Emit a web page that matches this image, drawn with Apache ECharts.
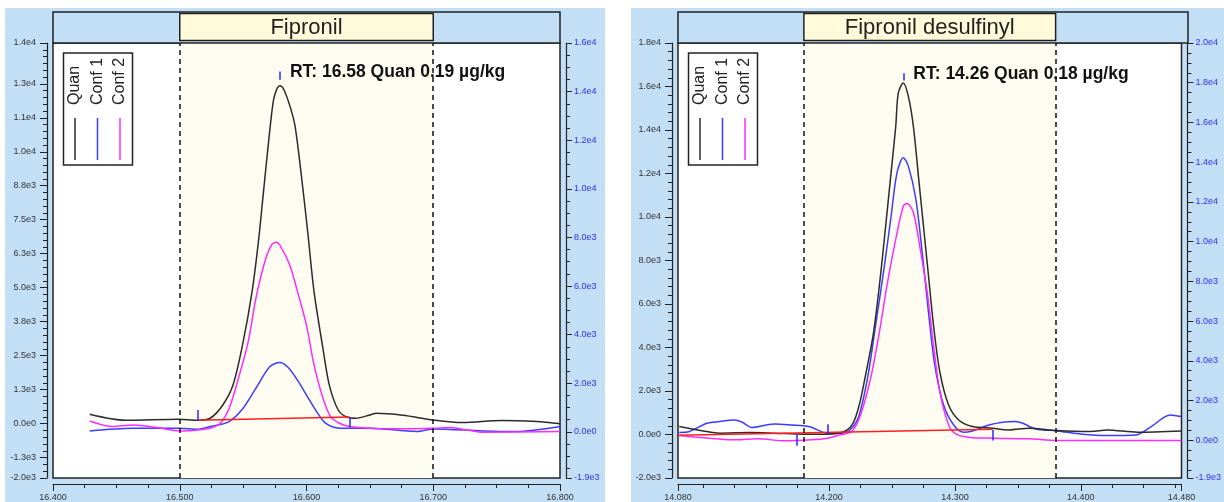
<!DOCTYPE html>
<html>
<head>
<meta charset="utf-8">
<script src="https://cdn.jsdelivr.net/npm/echarts@6/dist/echarts.min.js"></script>
<style>html,body{margin:0;padding:0;background:#fff}#c{width:1224px;height:502px}</style>
</head>
<body>
<div id="c"></div>
<script>
// ---------------- DATA ----------------
const legendNames = ['Quan', 'Conf 1', 'Conf 2'];

// Panel 1: Fipronil  (time [min], intensity)
const fipTitle = 'Fipronil';
const fipNote = 'RT: 16.58 Quan 0.19 µg/kg';
const fipQuan = [[16.429,344],[16.457,124],[16.499,161],[16.514,124],[16.524,198],[16.534,685],[16.542,1417],[16.550,3006],[16.557,4836],[16.562,6667],[16.566,8497],[16.570,10328],[16.574,11913],[16.577,12350],[16.579,12430],[16.582,12300],[16.587,11668],[16.591,10936],[16.596,9105],[16.601,7033],[16.606,4836],[16.613,2760],[16.618,1417],[16.625,502],[16.631,260],[16.639,198],[16.650,319],[16.655,381],[16.676,308],[16.700,135],[16.723,40],[16.754,113],[16.778,88],[16.800,-4]];
const fipConf1 = [[16.429,-267],[16.463,-168],[16.500,-168],[16.514,-205],[16.524,-106],[16.539,77],[16.550,564],[16.560,1296],[16.571,2090],[16.579,2248],[16.585,2090],[16.592,1662],[16.600,1051],[16.608,443],[16.615,15],[16.626,-168],[16.650,-168],[16.687,-289],[16.700,-194],[16.739,-267],[16.765,-289],[16.800,-106]];
const fipConf2 = [[16.429,99],[16.447,-106],[16.463,-48],[16.482,-143],[16.500,-267],[16.514,-231],[16.524,-168],[16.532,15],[16.539,564],[16.547,1783],[16.554,3006],[16.560,4591],[16.567,5935],[16.572,6542],[16.576,6667],[16.580,6484],[16.587,5810],[16.593,4836],[16.600,3613],[16.606,2149],[16.613,930],[16.619,260],[16.626,15],[16.634,-106],[16.650,-168],[16.673,-187],[16.700,-168],[16.713,-143],[16.728,-242],[16.739,-315],[16.800,-289]];
const fipBaseline = [[16.514,124],[16.634,245]];
const fipMarks = [[16.514,99,502],[16.634,223,-143],[16.579,12650,12950]]; // time, from, to
const fipApex = [16.579, 12950];
const fipWindow = [16.5, 16.7];
const fipXRange = [16.4, 16.8];
const fipXTicks = [16.4, 16.5, 16.6, 16.7, 16.8];
const fipXLabels = ['16.400', '16.500', '16.600', '16.700', '16.800'];
const fipYRange = [-2000, 14000];
const fipYTicks = [-2000,-1250,0,1250,2500,3750,5000,6250,7500,8750,10000,11250,12500,14000];
const fipYLabels = ['-2.0e3','-1.3e3','0.0e0','1.3e3','2.5e3','3.8e3','5.0e3','6.3e3','7.5e3','8.8e3','1.0e4','1.1e4','1.3e4','1.4e4'];
const fipY2Range = [-1900, 16000];
const fipY2Ticks = [-1900,0,2000,4000,6000,8000,10000,12000,14000,16000];
const fipY2Labels = ['-1.9e3','0.0e0','2.0e3','4.0e3','6.0e3','8.0e3','1.0e4','1.2e4','1.4e4','1.6e4'];

// Panel 2: Fipronil desulfinyl
const fdTitle = 'Fipronil desulfinyl';
const fdNote = 'RT: 14.26 Quan 0.18 µg/kg';
const fdQuan = [[14.081,366],[14.100,165],[14.113,60],[14.137,92],[14.157,60],[14.180,14],[14.199,14],[14.212,137],[14.219,517],[14.224,1355],[14.229,2728],[14.235,4559],[14.240,6847],[14.245,9593],[14.249,11882],[14.253,14170],[14.255,15699],[14.259,16157],[14.263,15543],[14.267,14170],[14.271,11882],[14.275,9593],[14.279,7305],[14.283,5016],[14.288,2884],[14.295,1355],[14.303,668],[14.314,366],[14.330,288],[14.343,211],[14.359,288],[14.381,183],[14.408,137],[14.421,211],[14.445,105],[14.480,165]];
const fdConf1 = [[14.081,92],[14.089,137],[14.103,517],[14.113,595],[14.125,668],[14.131,563],[14.139,320],[14.150,439],[14.157,485],[14.170,439],[14.184,366],[14.199,60],[14.210,60],[14.218,288],[14.224,897],[14.231,2728],[14.237,5016],[14.244,7763],[14.249,9900],[14.254,12037],[14.259,12724],[14.263,12339],[14.269,10815],[14.274,8376],[14.279,5630],[14.284,3186],[14.291,1355],[14.299,439],[14.307,105],[14.314,165],[14.320,288],[14.327,439],[14.338,563],[14.348,595],[14.354,517],[14.364,256],[14.381,165],[14.401,14],[14.421,-46],[14.444,-18],[14.456,366],[14.471,897],[14.480,824]];
const fdConf2 = [[14.081,-46],[14.105,-169],[14.126,-247],[14.144,-201],[14.165,-293],[14.186,-247],[14.199,-169],[14.207,-46],[14.218,137],[14.225,897],[14.233,2577],[14.240,4714],[14.246,6847],[14.253,8985],[14.259,10509],[14.262,10619],[14.267,10207],[14.272,8678],[14.278,6545],[14.283,4101],[14.288,1968],[14.295,439],[14.301,14],[14.312,-137],[14.330,-169],[14.359,-201],[14.381,-275],[14.421,-275],[14.480,-275]];
const fdBaseline = [[14.080,-30],[14.330,240]];
const fdMarks = [[14.174,-18,-522],[14.199,471,-18],[14.330,211,-275],[14.259,16276,16614]];
const fdApex = [14.259, 16614];
const fdWindow = [14.18, 14.38];
const fdXRange = [14.08, 14.48];
const fdXTicks = [14.08, 14.2, 14.3, 14.4, 14.48];
const fdXLabels = ['14.080', '14.200', '14.300', '14.400', '14.480'];
const fdYRange = [-2000, 18000];
const fdYTicks = [-2000,0,2000,4000,6000,8000,10000,12000,14000,16000,18000];
const fdYLabels = ['-2.0e3','0.0e0','2.0e3','4.0e3','6.0e3','8.0e3','1.0e4','1.2e4','1.4e4','1.6e4','1.8e4'];
const fdY2Range = [-1900, 20000];
const fdY2Ticks = [-1900,0,2000,4000,6000,8000,10000,12000,14000,16000,18000,20000];
const fdY2Labels = ['-1.9e3','0.0e0','2.0e3','4.0e3','6.0e3','8.0e3','1.0e4','1.2e4','1.4e4','1.6e4','1.8e4','2.0e4'];

// ---------------- STYLE / LAYOUT ----------------
const FONT = '"Liberation Sans", Arial, sans-serif';
const BLUE_BG = '#c3dff5';
const CREAM = '#fffdf1';
const TITLE_FILL = '#fffbda';
const INK = '#222';
const C_QUAN = '#2b2b2b', C_CONF1 = '#3c3cff', C_CONF2 = '#ff2bff', C_BASE = '#ff1f1f', C_MARK = '#2626ff';
const legendColors = [C_QUAN, C_CONF1, C_CONF2];

const panels = [
  { title: fipTitle, note: fipNote, quan: fipQuan, conf1: fipConf1, conf2: fipConf2, base: fipBaseline, marks: fipMarks,
    apex: fipApex, win: fipWindow, xRange: fipXRange, xTicks: fipXTicks, xLabels: fipXLabels, xMinor: 0.025,
    yRange: fipYRange, yTicks: fipYTicks, yLabels: fipYLabels, yMinor: 250,
    y2Range: fipY2Range, y2Ticks: fipY2Ticks, y2Labels: fipY2Labels, y2Minor: 500,
    grid: { left: 53, top: 43, width: 507, height: 437 }, bg: { x: 5, y: 8, width: 600, height: 494 } },
  { title: fdTitle, note: fdNote, quan: fdQuan, conf1: fdConf1, conf2: fdConf2, base: fdBaseline, marks: fdMarks,
    apex: fdApex, win: fdWindow, xRange: fdXRange, xTicks: fdXTicks, xLabels: fdXLabels, xMinor: 0.025,
    yRange: fdYRange, yTicks: fdYTicks, yLabels: fdYLabels, yMinor: 400,
    y2Range: fdY2Range, y2Ticks: fdY2Ticks, y2Labels: fdY2Labels, y2Minor: 500,
    grid: { left: 678, top: 43, width: 510, height: 437 }, bg: { x: 631, y: 8, width: 593, height: 494 } }
];

function lab(ticks, labels) {
  return function (v) {
    for (let i = 0; i < ticks.length; i++) {
      if (Math.abs(ticks[i] - v) < 1e-6 * Math.max(1, Math.abs(v))) return labels[i];
    }
    return '';
  };
}
function minorTicks(range, step) {
  const out = [];
  const a = Math.ceil(range[0] / step - 1e-9), b = Math.floor(range[1] / step + 1e-9);
  for (let i = a; i <= b; i++) out.push(+(i * step).toFixed(4));
  return out;
}

const grid = [], xAxis = [], yAxis = [], series = [];
panels.forEach((p, g) => {
  grid.push({ left: p.grid.left, top: p.grid.top, width: p.grid.width, height: p.grid.height,
    show: true, backgroundColor: '#ffffff', borderColor: INK, borderWidth: 1.5 });
  const line = { show: true, onZero: false, lineStyle: { color: INK, width: 1.2 } };
  const noLine = { show: false, onZero: false };
  const tickStyle = { color: INK, width: 1 };
  // x axes: majors + minors
  xAxis.push({ gridIndex: g, type: 'value', min: p.xRange[0], max: p.xRange[1], position: 'bottom', offset: 6,
    axisLine: line, splitLine: { show: false },
    axisTick: { show: true, length: 7, customValues: p.xTicks, lineStyle: tickStyle },
    axisLabel: { show: true, customValues: p.xTicks, formatter: lab(p.xTicks, p.xLabels), fontSize: 9, color: '#333', margin: 9, fontFamily: FONT } });
  xAxis.push({ gridIndex: g, type: 'value', min: p.xRange[0], max: p.xRange[1], position: 'bottom', offset: 6,
    axisLine: noLine, splitLine: { show: false },
    axisTick: { show: true, length: 4, customValues: minorTicks(p.xRange, p.xMinor), lineStyle: tickStyle },
    axisLabel: { show: false } });
  // left y axes
  yAxis.push({ gridIndex: g, type: 'value', min: p.yRange[0], max: p.yRange[1], position: 'left', offset: 6,
    axisLine: line, splitLine: { show: false },
    axisTick: { show: true, length: 7, customValues: p.yTicks, lineStyle: tickStyle },
    axisLabel: { show: true, customValues: p.yTicks, formatter: lab(p.yTicks, p.yLabels), fontSize: 9, color: '#333', margin: 11, fontFamily: FONT } });
  yAxis.push({ gridIndex: g, type: 'value', min: p.yRange[0], max: p.yRange[1], position: 'left', offset: 6,
    axisLine: noLine, splitLine: { show: false },
    axisTick: { show: true, length: 4, customValues: minorTicks(p.yRange, p.yMinor), lineStyle: tickStyle },
    axisLabel: { show: false } });
  // right y axes
  yAxis.push({ gridIndex: g, type: 'value', min: p.y2Range[0], max: p.y2Range[1], position: 'right', offset: 6,
    axisLine: line, splitLine: { show: false },
    axisTick: { show: true, length: 6, customValues: p.y2Ticks, lineStyle: tickStyle },
    axisLabel: { show: true, customValues: p.y2Ticks, formatter: lab(p.y2Ticks, p.y2Labels), fontSize: 9, color: '#2f2fff', margin: 8, fontFamily: FONT } });
  yAxis.push({ gridIndex: g, type: 'value', min: p.y2Range[0], max: p.y2Range[1], position: 'right', offset: 6,
    axisLine: noLine, splitLine: { show: false },
    axisTick: { show: true, length: 4, customValues: minorTicks(p.y2Range, p.y2Minor), lineStyle: tickStyle },
    axisLabel: { show: false } });

  const xi = 2 * g, yi = 4 * g;
  // integration window: cream band + dashed limits
  series.push({ type: 'line', xAxisIndex: xi, yAxisIndex: yi, data: p.base, symbol: 'none', silent: true, z: 1,
    lineStyle: { opacity: 0 },
    markArea: { silent: true, itemStyle: { color: CREAM }, data: [[{ xAxis: p.win[0] }, { xAxis: p.win[1] }]] },
    markLine: { silent: true, symbol: ['none', 'none'], label: { show: false },
      lineStyle: { color: '#111', width: 1.5, type: [5, 4] }, data: [{ xAxis: p.win[0] }, { xAxis: p.win[1] }] } });
  // traces
  [[p.conf1, C_CONF1, 'Conf 1'], [p.conf2, C_CONF2, 'Conf 2'], [p.quan, C_QUAN, 'Quan']].forEach(([d, c, n]) => {
    series.push({ type: 'line', name: n, xAxisIndex: xi, yAxisIndex: yi, data: d, symbol: 'none', smooth: 0.3,
      silent: true, z: 3, lineStyle: { color: c, width: 1.5 } });
  });
  // baseline + integration marks
  series.push({ type: 'line', xAxisIndex: xi, yAxisIndex: yi, data: p.base, symbol: 'none', silent: true, z: 4,
    lineStyle: { color: C_BASE, width: 1.5 },
    markLine: { silent: true, symbol: ['none', 'none'], label: { show: false },
      lineStyle: { color: C_MARK, width: 1.5, type: 'solid' },
      data: p.marks.map(m => [{ coord: [m[0], m[1]] }, { coord: [m[0], m[2]] }]) } });
});

const chart = echarts.init(document.getElementById('c'), null, { renderer: 'canvas' });
chart.setOption({ animation: false, backgroundColor: '#ffffff', grid, xAxis, yAxis, series });

// decorations: panel backgrounds, title headers, RT notes, legends
const gfx = [];
panels.forEach((p, g) => {
  const finder = { xAxisIndex: 2 * g, yAxisIndex: 4 * g };
  gfx.push({ type: 'rect', z: -100, silent: true, shape: { x: p.bg.x, y: p.bg.y, width: p.bg.width, height: p.bg.height }, style: { fill: BLUE_BG } });
  gfx.push({ type: 'rect', z: 1, silent: true, shape: { x: p.grid.left, y: 12, width: p.grid.width, height: p.grid.top - 12 },
    style: { fill: BLUE_BG, stroke: INK, lineWidth: 1.5 } });
  const a = chart.convertToPixel(finder, [p.win[0], 0]);
  const b = chart.convertToPixel(finder, [p.win[1], 0]);
  gfx.push({ type: 'rect', z: 2, silent: true, shape: { x: a[0], y: 13.5, width: b[0] - a[0], height: 27 },
    style: { fill: TITLE_FILL, stroke: INK, lineWidth: 1.5 } });
  gfx.push({ type: 'text', z: 3, silent: true, x: (a[0] + b[0]) / 2, y: 27.5,
    style: { text: p.title, font: '22px ' + FONT, fill: INK, align: 'center', verticalAlign: 'middle' } });
  const ap = chart.convertToPixel(finder, p.apex);
  gfx.push({ type: 'text', z: 10, silent: true, x: ap[0] + 10, y: ap[1] + 1,
    style: { text: p.note, font: 'bold 17.5px ' + FONT, fill: '#111', align: 'left', verticalAlign: 'middle' } });
  const lx = p.grid.left + 10.5, ly = 53;
  gfx.push({ type: 'rect', z: 20, silent: true, shape: { x: lx, y: ly, width: 69, height: 112 },
    style: { fill: '#fff', stroke: INK, lineWidth: 1.5 } });
  legendNames.forEach((n, i) => {
    const cx = lx + 11.5 + 22.5 * i;
    gfx.push({ type: 'text', z: 21, silent: true, x: cx, y: ly + 52, rotation: Math.PI / 2,
      style: { text: n, font: '16px ' + FONT, fill: INK, align: 'left', verticalAlign: 'middle' } });
    gfx.push({ type: 'line', z: 21, silent: true, shape: { x1: cx, y1: ly + 65, x2: cx, y2: ly + 107 },
      style: { stroke: legendColors[i], lineWidth: 1.5 } });
  });
});
chart.setOption({ graphic: gfx });
</script>
</body>
</html>
